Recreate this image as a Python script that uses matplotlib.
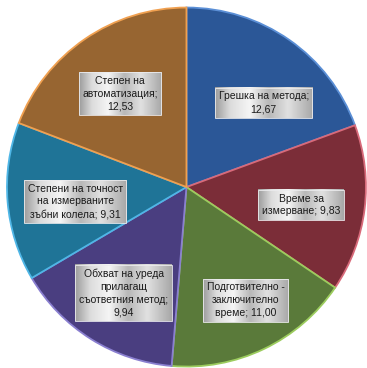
import matplotlib
matplotlib.use('Agg')
import matplotlib.pyplot as plt
import numpy as np

plt.rcParams['font.family'] = ['Liberation Sans Narrow', 'Liberation Sans', 'DejaVu Sans']

# slices, clockwise from 12 o'clock
categories = ['Грешка на метода', 'Време за\nизмерване', 'Подготвително -\nзаключително\nвреме',
              'Обхват на уреда\nприлагащ\nсъответния метод', 'Степени на точност\nна измерваните\nзъбни колела',
              'Степен на\nавтоматизация']
values = [12.67, 9.83, 11.00, 9.94, 9.31, 12.53]
value_break = ['\n', ' ', ' ', '\n', ' ', '\n']   # value on new line or same line

colors = ['#2b5797', '#7b2d38', '#5a7a3a', '#4a3e80', '#1f7497', '#976531']
edges = ['#5b8fd6', '#d86a7a', '#9ccc5e', '#8a7fd0', '#4fb6e6', '#f0a050']

# label box centres (data units, pie radius = 1)
label_xy = [(0.43, 0.47), (0.64, -0.10), (0.33, -0.63), (-0.35, -0.59), (-0.62, -0.08), (-0.37, 0.52)]

fig = plt.figure(figsize=(3.67, 3.68), dpi=100)
ax = fig.add_axes([0, 0, 1, 1])

wedges, _ = ax.pie(values, colors=colors, startangle=90, counterclock=False, radius=1.0,
                   wedgeprops=dict(linewidth=1.3))
for w, ec in zip(wedges, edges):
    w.set_edgecolor(ec)

texts = []
for name, v, sep, (x, y) in zip(categories, values, value_break, label_xy):
    txt = name + ';' + sep + ('%.2f' % v).replace('.', ',')
    t = ax.text(x, y, txt, ha='center', va='center', fontsize=7.5, color='#1a1a1a', linespacing=1.35,
                zorder=5,
                bbox=dict(boxstyle='square,pad=0.35', facecolor='none', edgecolor='#ececee', linewidth=0.6))
    texts.append(t)

ax.set_xlim(-1.039, 1.006)
ax.set_ylim(-1.008, 1.042)
ax.set_aspect('equal')
ax.axis('off')

# metallic fill behind each label box
fig.canvas.draw()
grad = np.interp(np.linspace(0, 1, 64), [0, 0.15, 0.35, 0.55, 0.75, 1.0],
                 [0.62, 0.86, 0.96, 0.72, 0.88, 0.66])
grad = np.tile(grad, (2, 1))
inv = ax.transData.inverted()
for t in texts:
    bb = t.get_bbox_patch().get_window_extent()
    (x0, y0), (x1, y1) = inv.transform([[bb.x0, bb.y0], [bb.x1, bb.y1]])
    ax.imshow(grad, cmap='gray', vmin=0, vmax=1, extent=(x0, x1, y0, y1), aspect='auto',
              zorder=4, interpolation='bilinear')
ax.set_xlim(-1.039, 1.006)
ax.set_ylim(-1.008, 1.042)

plt.savefig('out.png', dpi=100)
